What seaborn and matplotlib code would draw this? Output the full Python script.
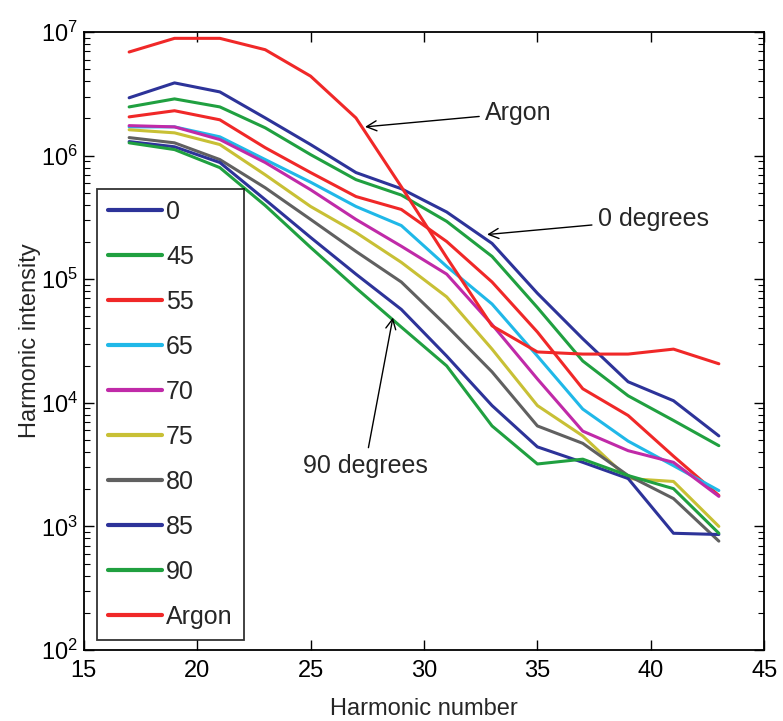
import numpy as np
import pandas as pd
import matplotlib
matplotlib.use("Agg")
import matplotlib.pyplot as plt
import seaborn as sns

harmonics = [17, 19, 21, 23, 25, 27, 29, 31, 33, 35, 37, 39, 41, 43]

deg0 = [2.94e6, 3.88e6, 3.28e6, 2.02e6, 1.23e6, 7.3e5, 5.4e5, 3.5e5, 1.95e5, 7.7e4, 3.3e4, 1.48e4, 1.04e4, 5.4e3]
deg45 = [2.48e6, 2.88e6, 2.48e6, 1.68e6, 1.02e6, 6.4e5, 4.8e5, 2.94e5, 1.53e5, 5.9e4, 2.18e4, 1.14e4, 7.2e3, 4.5e3]
deg55 = [2.06e6, 2.31e6, 1.95e6, 1.16e6, 7.3e5, 4.67e5, 3.67e5, 2.02e5, 9.5e4, 3.74e4, 1.30e4, 7.9e3, 3.7e3, 1.78e3]
deg65 = [1.71e6, 1.71e6, 1.42e6, 9.3e5, 6.1e5, 3.88e5, 2.72e5, 1.27e5, 6.3e4, 2.39e4, 8.9e3, 4.9e3, 3.1e3, 1.95e3]
deg70 = [1.75e6, 1.71e6, 1.35e6, 8.8e5, 5.3e5, 3.05e5, 1.85e5, 1.10e5, 4.3e4, 1.56e4, 5.9e3, 4.1e3, 3.3e3, 1.75e3]
deg75 = [1.62e6, 1.53e6, 1.23e6, 7.0e5, 3.88e5, 2.39e5, 1.37e5, 7.2e4, 2.72e4, 9.5e3, 5.4e3, 2.44e3, 2.31e3, 1.0e3]
deg80 = [1.40e6, 1.27e6, 9.3e5, 5.5e5, 3.05e5, 1.68e5, 9.5e4, 4.2e4, 1.78e4, 6.5e3, 4.7e3, 2.58e3, 1.68e3, 7.6e2]
deg85 = [1.30e6, 1.18e6, 8.8e5, 4.4e5, 2.18e5, 1.10e5, 5.7e4, 2.39e4, 9.5e3, 4.4e3, 3.3e3, 2.44e3, 8.8e2, 8.6e2]
deg90 = [1.27e6, 1.12e6, 8.0e5, 3.95e5, 1.81e5, 8.5e4, 4.1e4, 1.99e4, 6.5e3, 3.2e3, 3.5e3, 2.58e3, 2.02e3, 8.8e2]
argon = [6.9e6, 8.9e6, 8.9e6, 7.2e6, 4.4e6, 2.02e6, 5.6e5, 1.50e5, 4.2e4, 2.58e4, 2.48e4, 2.48e4, 2.72e4, 2.07e4]

series_names = ["0", "45", "55", "65", "70", "75", "80", "85", "90", "Argon"]
series_values = [deg0, deg45, deg55, deg65, deg70, deg75, deg80, deg85, deg90, argon]
series_colors = ["#2d3399", "#20a040", "#f02828", "#20b8e8", "#c02aa8",
                 "#c8c035", "#606060", "#2d3399", "#20a040", "#f02828"]

rows = []
for name, vals in zip(series_names, series_values):
    for h, v in zip(harmonics, vals):
        rows.append({"Harmonic number": h, "Harmonic intensity": v, "series": name})
df = pd.DataFrame(rows)

sns.set_style("ticks")
plt.rcParams["font.family"] = ["Liberation Sans", "DejaVu Sans"]
plt.rcParams["mathtext.fontset"] = "custom"
plt.rcParams["mathtext.rm"] = "Liberation Sans"

fig = plt.figure(figsize=(7.83, 7.21), dpi=100)
ax = fig.add_axes([0.107, 0.0985, 0.869, 0.857])

palette = dict(zip(series_names, series_colors))
sns.lineplot(data=df, x="Harmonic number", y="Harmonic intensity", hue="series",
             hue_order=series_names, palette=palette, linewidth=2.2, ax=ax,
             legend=True)

ax.set_yscale("log")
ax.set_xlim(15, 45)
ax.set_ylim(1e2, 1e7)
ax.set_xticks([15, 20, 25, 30, 35, 40, 45])
ax.tick_params(axis="both", which="both", direction="in", top=True, right=True,
               labelsize=17, colors="black")
ax.tick_params(axis="x", which="major", pad=7)
ax.tick_params(axis="y", which="major", pad=4)
ax.tick_params(axis="both", which="major", length=7, width=1)
ax.tick_params(axis="y", which="minor", length=4, width=0.8)
for s in ax.spines.values():
    s.set_linewidth(1.3)
    s.set_color("black")
ax.set_xlabel("Harmonic number", fontsize=17, labelpad=12)
ax.set_ylabel("Harmonic intensity", fontsize=17, labelpad=0)

leg = ax.legend(loc="lower left", bbox_to_anchor=(0.019, 0.016), borderaxespad=0,
                fontsize=18, frameon=True, fancybox=False, edgecolor="black",
                handlelength=2.15, handletextpad=0.18, labelspacing=0.84,
                borderpad=0.45, title=None)
leg.get_frame().set_linewidth(1.3)
for line in leg.get_lines():
    line.set_linewidth(3)

arrow = dict(arrowstyle="->", color="black", lw=1.0, shrinkA=2, shrinkB=0)
ax.annotate("Argon", xy=(27.4, 1.71e6), xytext=(32.7, 2.22e6), fontsize=18,
            ha="left", va="center", arrowprops=arrow)
ax.annotate("0 degrees", xy=(32.78, 2.3e5), xytext=(37.67, 3.05e5), fontsize=18,
            ha="left", va="center", arrowprops=arrow)
ax.annotate("90 degrees", xy=(28.63, 4.9e4), xytext=(27.4, 3.1e3), fontsize=18,
            ha="center", va="center", arrowprops=arrow)

fig.savefig("out.png", dpi=100)
